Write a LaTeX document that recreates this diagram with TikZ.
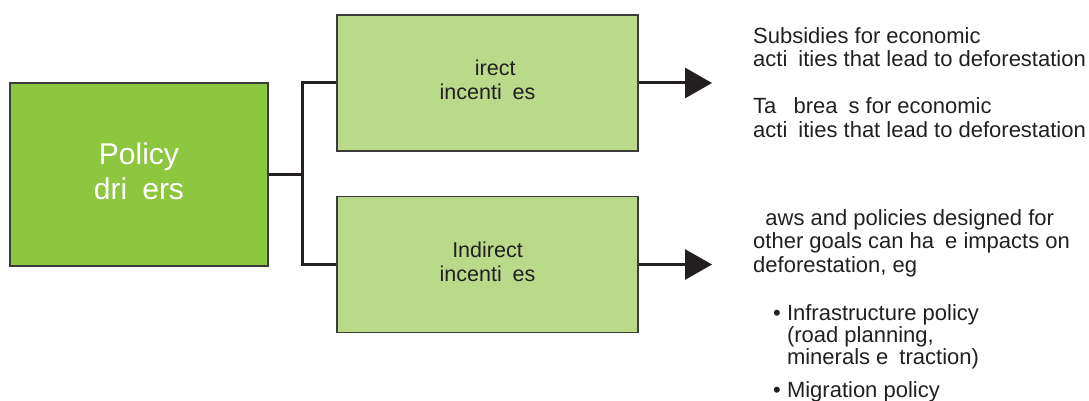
\documentclass[tikz,border=0pt]{standalone}
\usepackage{fontspec}
\setmainfont{Liberation Sans}
\usetikzlibrary{arrows.meta}
\definecolor{darkgreen}{HTML}{8DC63F}
\definecolor{lightgreen}{HTML}{BBD98B}
\definecolor{ink}{HTML}{231F20}
\definecolor{edge}{HTML}{3C3C3C}
\tikzset{
  mainbox/.style={draw=edge, line width=1.3pt, fill=darkgreen, minimum width=258pt, minimum height=183pt, inner sep=0pt},
  maintext/.style={inner sep=0pt, text=white, align=center, font=\fontsize{30}{35}\selectfont},
  subbox/.style={draw=edge, line width=1.3pt, fill=lightgreen, minimum width=301pt, minimum height=136pt, inner sep=0pt},
  subtext/.style={inner sep=0pt, text=ink, align=center, font=\fontsize{21.5}{24}\selectfont},
  conn/.style={draw=ink, line width=3pt},
  arr/.style={conn, -{Triangle[length=27pt,width=30pt]}},
  desc/.style={anchor=base west, inner sep=0pt, text=ink, align=left, font=\fontsize{22}{23.5}\selectfont},
}
\begin{document}
\begin{tikzpicture}[x=1pt,y=-1pt]
\useasboundingbox (0,0) rectangle (1089,401);
\node[mainbox] (L) at (139,174.5) {};
\node[maintext] (Lt) at ([yshift=3.5pt]L.center) {Policy\\dri\phantom{v}ers};
\node[subbox] (T) at (487.5,83) {};
\node[subtext] (Tt) at ([yshift=3pt]T.center) {\phantom{D}irect\\incenti\phantom{v}es};
\node[subbox] (B) at (487.5,264.5) {};
\node[subtext] (Bt) at ([yshift=2.5pt]B.center) {Indirect\\incenti\phantom{v}es};
\coordinate (j) at (302,174.5);
\draw[conn] (L.east) -- (j);
\draw[conn] (T.west) -| (j) |- (B.west);
\coordinate (a1) at (712,83);
\coordinate (a2) at (712,264.5);
\draw[arr] (T.east) -- (a1);
\draw[arr] (B.east) -- (a2);
\node[desc] (p1) at (753,67) {Subsidies for economic\\acti\phantom{v}ities that lead to deforestation};
\node[desc] (p2) at (753,137) {Ta\phantom{x} brea\phantom{k}s for economic\\acti\phantom{v}ities that lead to deforestation};
\node[desc] (p3) at (753,272) {\phantom{L}aws and policies designed for\\other goals can ha\phantom{v}e impacts on\\deforestation, eg};
\node[desc, font=\fontsize{22}{22}\selectfont] (b1) at (773,364) {\textbullet\ Infrastructure policy\\\phantom{\textbullet\ }(road planning,\\\phantom{\textbullet\ }minerals e\phantom{x}traction)};
\node[desc] (b2) at (773,397) {\textbullet\ Migration policy};
\end{tikzpicture}
\end{document}
